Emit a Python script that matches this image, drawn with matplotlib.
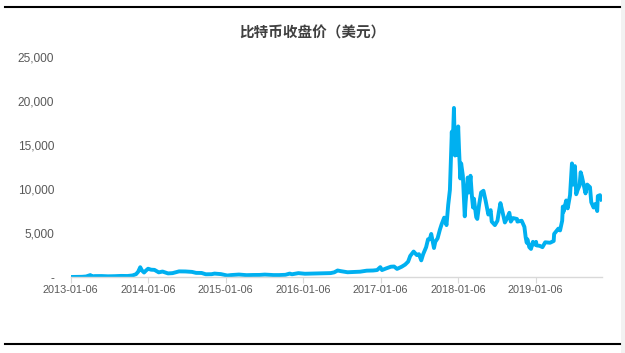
import matplotlib
matplotlib.use("Agg")
import matplotlib.pyplot as plt
import numpy as np
import pandas as pd
from matplotlib.lines import Line2D
from matplotlib.patches import Rectangle

plt.rcParams['font.family'] = ['Liberation Sans', 'Noto Sans CJK SC', 'DejaVu Sans']

title = '比特币收盘价（美元）'

# closing price (USD)
dates = [
    '2013-01-06', '2013-02-01', '2013-03-01', '2013-03-20', '2013-04-09', '2013-04-16',
    '2013-05-01', '2013-06-01', '2013-07-01', '2013-08-01', '2013-09-01', '2013-10-01',
    '2013-10-25', '2013-11-10', '2013-11-20', '2013-11-30', '2013-12-08', '2013-12-18',
    '2013-12-27', '2014-01-06', '2014-01-20', '2014-02-05', '2014-02-25', '2014-03-15',
    '2014-04-10', '2014-05-01', '2014-06-01', '2014-07-01', '2014-08-01', '2014-08-20',
    '2014-09-15', '2014-10-05', '2014-11-01', '2014-11-15', '2014-12-15', '2015-01-14',
    '2015-02-01', '2015-03-10', '2015-04-15', '2015-05-15', '2015-06-15', '2015-07-10',
    '2015-08-20', '2015-09-15', '2015-10-15', '2015-11-04', '2015-11-15', '2015-12-15',
    '2016-01-15', '2016-02-15', '2016-03-15', '2016-04-15', '2016-05-15', '2016-06-01',
    '2016-06-17', '2016-07-01', '2016-08-03', '2016-09-01', '2016-10-01', '2016-11-01',
    '2016-12-01', '2016-12-20', '2017-01-04', '2017-01-12', '2017-02-01', '2017-02-23',
    '2017-03-10', '2017-03-24', '2017-04-15', '2017-05-01', '2017-05-15', '2017-05-25',
    '2017-06-10', '2017-06-25', '2017-07-05', '2017-07-16', '2017-07-25', '2017-08-08',
    '2017-08-17', '2017-08-25', '2017-09-01', '2017-09-14', '2017-09-20', '2017-10-01',
    '2017-10-12', '2017-10-20', '2017-11-01', '2017-11-12', '2017-11-20', '2017-11-28',
    '2017-12-07', '2017-12-10', '2017-12-17', '2017-12-22', '2017-12-27', '2017-12-31',
    '2018-01-06', '2018-01-10', '2018-01-16', '2018-01-20', '2018-01-28', '2018-02-06',
    '2018-02-10', '2018-02-20', '2018-02-25', '2018-03-05', '2018-03-12', '2018-03-17',
    '2018-03-21', '2018-04-01', '2018-04-06', '2018-04-15', '2018-04-24', '2018-05-05',
    '2018-05-15', '2018-05-28', '2018-06-08', '2018-06-13', '2018-06-28', '2018-07-10',
    '2018-07-16', '2018-07-24', '2018-07-31', '2018-08-14', '2018-08-25', '2018-09-04',
    '2018-09-11', '2018-09-21', '2018-10-10', '2018-10-12', '2018-11-01', '2018-11-14',
    '2018-11-20', '2018-11-25', '2018-11-28', '2018-12-07', '2018-12-15', '2018-12-24',
    '2018-12-31', '2019-01-08', '2019-01-10', '2019-01-25', '2019-02-07', '2019-02-20',
    '2019-03-15', '2019-04-01', '2019-04-03', '2019-04-23', '2019-05-01', '2019-05-11',
    '2019-05-14', '2019-05-17', '2019-05-30', '2019-06-06', '2019-06-17', '2019-06-26',
    '2019-06-28', '2019-07-02', '2019-07-10', '2019-07-16', '2019-07-23', '2019-08-01',
    '2019-08-06', '2019-08-12', '2019-08-29', '2019-09-06', '2019-09-19', '2019-09-25',
    '2019-10-06', '2019-10-14', '2019-10-23', '2019-10-26', '2019-11-05', '2019-11-12',
]
prices = [
    13, 20, 34, 70, 230, 80,
    115, 120, 90, 105, 135, 125,
    190, 330, 600, 1120, 750, 520,
    740, 950, 840, 820, 540, 630,
    420, 450, 650, 640, 590, 480,
    470, 320, 330, 400, 340, 180,
    230, 290, 220, 240, 245, 285,
    230, 230, 260, 400, 320, 450,
    380, 400, 415, 430, 455, 540,
    750, 680, 550, 580, 615, 730,
    750, 800, 1130, 800, 990, 1180,
    1200, 930, 1180, 1420, 1750, 2400,
    2900, 2500, 2600, 1900, 2600, 3400,
    4300, 4300, 4900, 3300, 4000, 4400,
    5400, 6000, 6750, 5900, 8200, 9900,
    16500, 14000, 19200, 13800, 16000, 13900,
    17100, 14500, 11200, 12900, 11500, 6900,
    8500, 11300, 9600, 11500, 9100, 7900,
    8900, 6800, 6600, 8300, 9600, 9800,
    8700, 7100, 7600, 6300, 5900, 6400,
    7300, 8400, 7700, 6200, 6700, 7300,
    6300, 6700, 6600, 6300, 6400, 5700,
    4500, 3900, 4300, 3400, 3200, 4000,
    3700, 4000, 3600, 3550, 3400, 3950,
    3900, 4100, 4900, 5500, 5300, 6400,
    8000, 7400, 8700, 7800, 9300, 12900,
    11000, 10500, 12600, 9400, 9900, 10400,
    11900, 11400, 9500, 10500, 10200, 8500,
    7900, 8300, 7500, 9200, 9300, 8800,
]
tick_dates = ['2013-01-06', '2014-01-06', '2015-01-06', '2016-01-06',
              '2017-01-06', '2018-01-06', '2019-01-06']
y_ticks = [0, 5000, 10000, 15000, 20000, 25000]

x = pd.to_datetime(dates)

fig = plt.figure(figsize=(6.25, 3.53), dpi=100)
ax = fig.add_axes([0.113, 0.215, 0.85, 0.624])

ax.plot(x, prices, color='#00B0F0', lw=2.8, solid_joinstyle='round')

ax.set_xlim(pd.Timestamp('2013-01-06'), pd.Timestamp('2019-11-14'))
ax.set_ylim(0, 25000)

ax.set_xticks(pd.to_datetime(tick_dates))
ax.set_xticklabels(tick_dates, fontsize=7.8, color='#595959')
ax.set_yticks(y_ticks)
ax.set_yticklabels(['-' if v == 0 else f'{v:,}' for v in y_ticks],
                   fontsize=8.6, color='#595959')
ax.tick_params(axis='y', length=0, pad=12)
ax.tick_params(axis='x', length=4, width=0.8, color='#D9D9D9', pad=2)

for s in ['top', 'right', 'left']:
    ax.spines[s].set_visible(False)
ax.spines['bottom'].set_color('#D9D9D9')
ax.spines['bottom'].set_linewidth(1)

fig.text(0.5, 0.909, title, ha='center', va='center', fontsize=10.5,
         fontweight='bold', color='#404040', family=['Noto Sans CJK SC', 'DejaVu Sans'])

# frame lines above and below the chart
fig.add_artist(Line2D([0.008, 0.992], [1 - 7/353, 1 - 7/353], color='black', lw=1.5))
fig.add_artist(Line2D([0.008, 0.992], [1 - 344/353, 1 - 344/353], color='black', lw=1.5))
fig.add_artist(Rectangle((0.993, 0), 0.007, 1, transform=fig.transFigure,
                         color='#F2F2F2', lw=0))

fig.savefig('out.png', dpi=100)
